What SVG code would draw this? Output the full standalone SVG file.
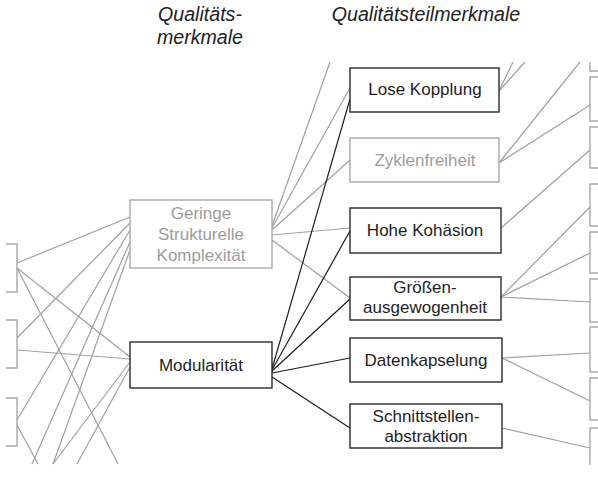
<svg xmlns="http://www.w3.org/2000/svg" width="598" height="484" viewBox="0 0 598 484">
  <style>
    .hdr { font-family: "Liberation Sans", Arial, sans-serif; font-style: italic; font-size: 19.6px; fill: #222; text-anchor: middle; }
    .lbl { font-family: "Liberation Sans", Arial, sans-serif; font-size: 17px; text-anchor: middle; }
    .dark rect { fill: #fff; stroke: #2a2a2a; stroke-width: 1.4; }
    .dark text { fill: #1e1e1e; }
    .pale rect { fill: #fff; stroke: #a8a8a8; stroke-width: 1.4; }
    .pale text { fill: #9c9c9c; }
    .stub { fill: none; stroke: #a8a8a8; stroke-width: 1.4; }
    .g line { stroke: #a0a0a0; stroke-width: 1.2; }
    .k line { stroke: #1e1e1e; stroke-width: 1.2; }
  </style>

  <!-- column headings -->
  <g id="headings">
    <text class="hdr" x="200" y="21">Qualitäts-</text>
    <text class="hdr" x="200" y="44">merkmale</text>
    <text class="hdr" x="426" y="21">Qualitätsteilmerkmale</text>
  </g>

  <!-- connectors -->
  <g id="connectors">
    <g class="g">
      <!-- left stubs to the two quality attributes -->
      <line x1="17" y1="263" x2="130" y2="217"/>
      <line x1="17" y1="268" x2="130" y2="357"/>
      <line x1="17" y1="268" x2="118" y2="464"/>
      <line x1="17" y1="338" x2="130" y2="223"/>
      <line x1="17" y1="350" x2="130" y2="359"/>
      <line x1="17" y1="420" x2="130" y2="230"/>
      <line x1="17" y1="425" x2="38" y2="464"/>
      <line x1="32" y1="464" x2="130" y2="242"/>
      <line x1="53" y1="464" x2="130" y2="250"/>
      <line x1="53" y1="464" x2="130" y2="362"/>
      <line x1="77" y1="464" x2="130" y2="367"/>
      <!-- Geringe Strukturelle Komplexität to sub-attributes -->
      <line x1="272" y1="226" x2="330" y2="62"/>
      <line x1="272" y1="228" x2="350" y2="88"/>
      <line x1="272" y1="230" x2="350" y2="160"/>
      <line x1="272" y1="235" x2="350" y2="228"/>
      <line x1="272" y1="240" x2="350" y2="298"/>
      <!-- sub-attributes to right stubs -->
      <line x1="499" y1="91" x2="513" y2="62"/>
      <line x1="499" y1="91" x2="525" y2="62"/>
      <line x1="499" y1="163" x2="580" y2="62"/>
      <line x1="499" y1="163" x2="590" y2="105"/>
      <line x1="501" y1="228" x2="590" y2="150"/>
      <line x1="501" y1="297" x2="590" y2="207"/>
      <line x1="501" y1="297" x2="590" y2="253"/>
      <line x1="501" y1="297" x2="590" y2="302"/>
      <line x1="502" y1="358" x2="590" y2="353"/>
      <line x1="502" y1="358" x2="590" y2="401"/>
      <line x1="502" y1="428" x2="590" y2="448"/>
    </g>
    <g class="k">
      <!-- Modularität to its sub-attributes -->
      <line x1="272" y1="369" x2="350" y2="99"/>
      <line x1="272" y1="370" x2="350" y2="231"/>
      <line x1="272" y1="371" x2="350" y2="299"/>
      <line x1="272" y1="373" x2="350" y2="358"/>
      <line x1="272" y1="377" x2="350" y2="428"/>
    </g>
  </g>

  <!-- partial boxes at the left margin -->
  <g id="left-stubs">
    <path class="stub" d="M6,244 H17 V292 H6"/>
    <path class="stub" d="M6,320 H17 V368 H6"/>
    <path class="stub" d="M6,398 H17 V446 H6"/>
  </g>

  <!-- partial boxes at the right margin -->
  <g id="right-stubs">
    <path class="stub" d="M590,62 V71 H598"/>
    <path class="stub" d="M598,77 H590 V121 H598"/>
    <path class="stub" d="M598,127 H590 V168 H598"/>
    <path class="stub" d="M598,184 H590 V226 H598"/>
    <path class="stub" d="M598,232 H590 V273 H598"/>
    <path class="stub" d="M598,279 H590 V322 H598"/>
    <path class="stub" d="M598,327 H590 V372 H598"/>
    <path class="stub" d="M598,378 H590 V420 H598"/>
    <path class="stub" d="M598,428 H590 V465"/>
  </g>

  <!-- quality attributes -->
  <g id="geringe-komplexitaet" class="pale">
    <rect x="130" y="200" width="142" height="68"/>
    <text class="lbl" x="201" y="219">Geringe</text>
    <text class="lbl" x="201" y="240">Strukturelle</text>
    <text class="lbl" x="201" y="261">Komplexität</text>
  </g>
  <g id="modularitaet" class="dark">
    <rect x="130" y="342" width="142" height="46"/>
    <text class="lbl" x="201" y="371">Modularität</text>
  </g>

  <!-- sub-attributes -->
  <g id="lose-kopplung" class="dark">
    <rect x="350" y="68" width="149" height="44"/>
    <text class="lbl" x="425" y="95">Lose Kopplung</text>
  </g>
  <g id="zyklenfreiheit" class="pale">
    <rect x="350" y="138" width="149" height="44"/>
    <text class="lbl" x="425" y="166">Zyklenfreiheit</text>
  </g>
  <g id="hohe-kohaesion" class="dark">
    <rect x="350" y="208" width="151" height="45"/>
    <text class="lbl" x="425" y="236">Hohe Kohäsion</text>
  </g>
  <g id="groessenausgewogenheit" class="dark">
    <rect x="350" y="277" width="151" height="43"/>
    <text class="lbl" x="425" y="293">Größen-</text>
    <text class="lbl" x="425" y="313">ausgewogenheit</text>
  </g>
  <g id="datenkapselung" class="dark">
    <rect x="350" y="338" width="152" height="44"/>
    <text class="lbl" x="426" y="366">Datenkapselung</text>
  </g>
  <g id="schnittstellenabstraktion" class="dark">
    <rect x="350" y="404" width="152" height="44"/>
    <text class="lbl" x="426" y="422">Schnittstellen-</text>
    <text class="lbl" x="426" y="442">abstraktion</text>
  </g>
</svg>
